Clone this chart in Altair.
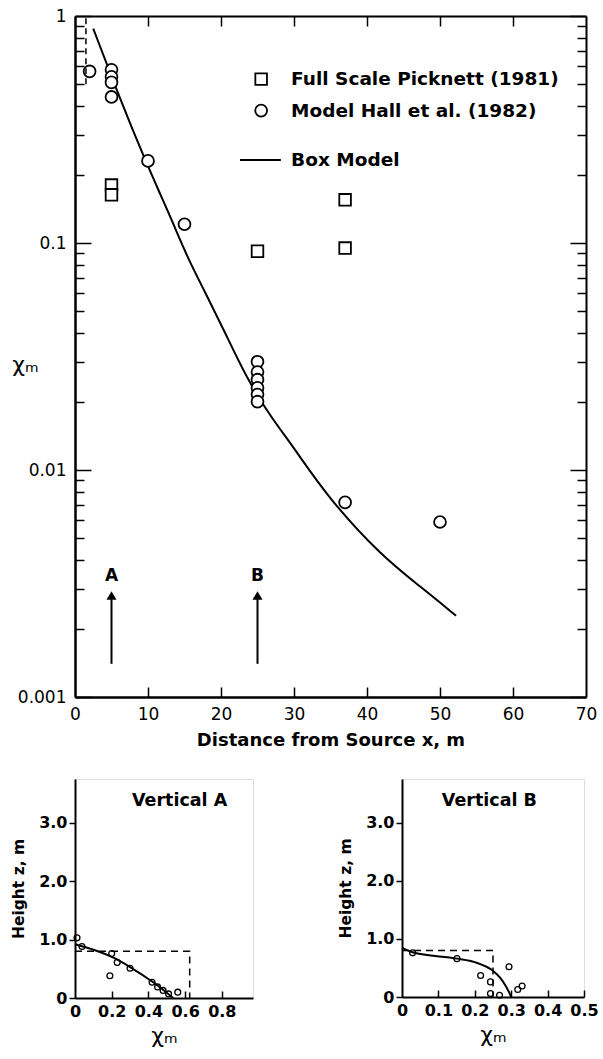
import altair as alt
import pandas as pd

FONT = "DejaVu Sans"

# ---------------- main panel data ----------------
pick_x = [5, 5, 25, 37, 37]
pick_y = [0.18, 0.163, 0.092, 0.155, 0.095]

hall_x = [2, 5, 5, 5, 5, 10, 15, 25, 25, 25, 25, 25, 25, 37, 50]
hall_y = [0.57, 0.58, 0.54, 0.51, 0.44, 0.23, 0.121,
          0.030, 0.027, 0.025, 0.023, 0.0215, 0.020, 0.0072, 0.0059]

box_x = [2.5, 6.3, 9.55, 11.8, 13.4, 15.5, 17.8, 20.5, 23.7, 26.9, 30.1, 34.6, 41.9, 47.4, 52.2]
box_y = [0.88, 0.42, 0.234, 0.161, 0.123, 0.0851, 0.0609, 0.0407, 0.0247, 0.0170,
         0.0124, 0.0076, 0.0042, 0.00305, 0.00228]

legend_labels = ["Full Scale Picknett (1981)", "Model Hall et al. (1982)", "Box Model"]
legend_y = [0.527, 0.383, 0.232]
legend_sym_x = 25.5
legend_line_x = [22.6, 28.2]
legend_text_x = 29.6

arrow_x = [5, 25]
arrow_labels = ["A", "B"]
arrow_lo, arrow_hi, arrow_head, arrow_lab = 0.0014, 0.0027, 0.0028, 0.0034

init_x = 1.5
init_y = [0.5, 1.0]

x_major = [0, 10, 20, 30, 40, 50, 60, 70]
x_inner = [10, 20, 30, 40, 50, 60]
y_major = [0.001, 0.01, 0.1, 1]
y_all = [k * 10.0 ** e for e in (-3, -2, -1) for k in range(1, 10)] + [1.0]

# ---------------- vertical profiles ----------------
a_x = [0.011, 0.038, 0.20, 0.19, 0.23, 0.30, 0.42, 0.45, 0.48, 0.51, 0.56]
a_z = [1.03, 0.88, 0.76, 0.38, 0.61, 0.51, 0.27, 0.19, 0.13, 0.07, 0.10]
a_line_x = [0, 0.21, 0.30, 0.43, 0.535]
a_line_z = [0.92, 0.69, 0.53, 0.26, 0.0]
a_box_x = [0, 0.625, 0.625]
a_box_z = [0.8, 0.8, 0.0]

b_x = [0.029, 0.151, 0.216, 0.243, 0.243, 0.268, 0.294, 0.318, 0.33]
b_z = [0.76, 0.66, 0.37, 0.26, 0.06, 0.03, 0.52, 0.13, 0.19]
b_line_x = [0, 0.029, 0.151, 0.2, 0.25, 0.27, 0.285, 0.295, 0.3]
b_line_z = [0.85, 0.77, 0.66, 0.6, 0.45, 0.33, 0.19, 0.07, 0.0]
b_box_x = [0, 0.25, 0.25]
b_box_z = [0.8, 0.8, 0.0]

W, H = 511, 681

xs = alt.Scale(domain=[0, 70], nice=False, zero=False)
ys = alt.Scale(type="log", domain=[0.001, 1], nice=False)

major_test = "abs(log(datum.value)/LN10 - round(log(datum.value)/LN10)) < 0.000001"
ytick = {"condition": {"test": major_test, "value": 16}, "value": 9}

common = dict(grid=False, domainColor="black", domainWidth=2, tickColor="black",
              tickWidth=1.5, labelColor="black", titleColor="black",
              labelFont=FONT, titleFont=FONT)

x_lab_axis = alt.Axis(orient="bottom", values=x_major, ticks=False, tickSize=0,
                      labelFontSize=17, labelPadding=9, labelFlush=False,
                      title="Distance from Source x, m", titleFontSize=18,
                      titleFontWeight="bold", titlePadding=9, **common)
y_lab_axis = alt.Axis(orient="left", values=y_major, format="~g", ticks=False, tickSize=0,
                      labelFontSize=17, labelPadding=9, labelOverlap=False,
                      title="χₘ", titleAngle=0, titleX=-50, titleY=348,
                      titleAlign="center", titleBaseline="middle",
                      titleFontSize=22, titleFontWeight="normal", **common)
x_bot_ticks = alt.Axis(orient="top", offset=-H, values=x_inner, labels=False,
                       tickSize=10, title="", **common)
x_top_ticks = alt.Axis(orient="bottom", offset=-H, values=x_inner, labels=False,
                       tickSize=10, title="", **common)
y_left_ticks = alt.Axis(orient="right", offset=-W, values=y_all, labels=False,
                        tickSize=ytick, title="", **common)
y_right_ticks = alt.Axis(orient="left", offset=-W, values=y_all, labels=False,
                         tickSize=ytick, title="", **common)

df_box = pd.DataFrame({"x": box_x, "y": box_y})
df_hall = pd.DataFrame({"x": hall_x, "y": hall_y})
df_pick = pd.DataFrame({"x": pick_x, "y": pick_y})

line_main = alt.Chart(df_box).mark_line(color="black", strokeWidth=2, interpolate="basis").encode(
    x=alt.X("x:Q", scale=xs, axis=x_lab_axis),
    y=alt.Y("y:Q", scale=ys, axis=y_lab_axis),
)
circ_main = alt.Chart(df_hall).mark_point(shape="circle", size=140, color="black", opacity=1,
                                          fill="white", filled=False, strokeWidth=1.8).encode(
    x=alt.X("x:Q", scale=xs, axis=x_bot_ticks),
    y=alt.Y("y:Q", scale=ys, axis=y_left_ticks),
)
sq_main = alt.Chart(df_pick).mark_point(shape="square", size=135, color="black", opacity=1,
                                        fill="white", filled=False, strokeWidth=1.8).encode(
    x=alt.X("x:Q", scale=xs, axis=x_top_ticks),
    y=alt.Y("y:Q", scale=ys, axis=y_right_ticks),
)

df_leg = pd.DataFrame({"x": [legend_text_x] * 3, "y": legend_y, "t": legend_labels})
leg_text = alt.Chart(df_leg).mark_text(align="left", baseline="middle", fontSize=18.5,
                                       fontWeight="bold", font=FONT, color="black").encode(
    x=alt.X("x:Q", scale=xs, axis=None), y=alt.Y("y:Q", scale=ys, axis=None), text="t:N")
leg_sq = alt.Chart(pd.DataFrame({"x": [legend_sym_x], "y": [legend_y[0]]})).mark_point(
    shape="square", size=135, color="black", opacity=1, filled=False, strokeWidth=1.8).encode(
    x=alt.X("x:Q", scale=xs, axis=None), y=alt.Y("y:Q", scale=ys, axis=None))
leg_ci = alt.Chart(pd.DataFrame({"x": [legend_sym_x], "y": [legend_y[1]]})).mark_point(
    shape="circle", size=140, color="black", opacity=1, filled=False, strokeWidth=1.8).encode(
    x=alt.X("x:Q", scale=xs, axis=None), y=alt.Y("y:Q", scale=ys, axis=None))
leg_ln = alt.Chart(pd.DataFrame({"x": [legend_line_x[0]], "x2": [legend_line_x[1]],
                                 "y": [legend_y[2]]})).mark_rule(color="black", strokeWidth=2).encode(
    x=alt.X("x:Q", scale=xs, axis=None), x2="x2:Q", y=alt.Y("y:Q", scale=ys, axis=None))

df_arr = pd.DataFrame({"x": arrow_x, "lo": [arrow_lo] * 2, "hi": [arrow_hi] * 2,
                       "head": [arrow_head] * 2, "lab": [arrow_lab] * 2, "t": arrow_labels})
arr_rule = alt.Chart(df_arr).mark_rule(color="black", strokeWidth=2).encode(
    x=alt.X("x:Q", scale=xs, axis=None), y=alt.Y("lo:Q", scale=ys, axis=None), y2="hi:Q")
arr_head = alt.Chart(df_arr).mark_point(shape="triangle-up", size=100, filled=True,
                                        color="black", opacity=1).encode(
    x=alt.X("x:Q", scale=xs, axis=None), y=alt.Y("head:Q", scale=ys, axis=None))
arr_text = alt.Chart(df_arr).mark_text(fontSize=17, fontWeight="bold", font=FONT,
                                       color="black", baseline="middle").encode(
    x=alt.X("x:Q", scale=xs, axis=None), y=alt.Y("lab:Q", scale=ys, axis=None), text="t:N")

init_rule = alt.Chart(pd.DataFrame({"x": [init_x], "y": [init_y[0]], "y2": [init_y[1]]})).mark_rule(
    color="black", strokeWidth=1.5, strokeDash=[6, 4]).encode(
    x=alt.X("x:Q", scale=xs, axis=None), y=alt.Y("y:Q", scale=ys, axis=None), y2="y2:Q")

main = alt.layer(line_main, circ_main, sq_main, leg_text, leg_sq, leg_ci, leg_ln,
                 arr_rule, arr_head, arr_text, init_rule).resolve_scale(
    x="independent", y="independent").properties(width=W, height=H)


def profile(px, pz, lx, lz, bx, bz, xmax, xvals, title, tx, pw, ph):
    sx = alt.Scale(domain=[0, xmax], nice=False, zero=False)
    sz = alt.Scale(domain=[0, 3.75], nice=False, zero=False)
    xl = alt.Axis(orient="bottom", values=[0] + xvals, ticks=False, tickSize=0,
                  labelExpr="datum.value == 0 ? '0' : format(datum.value, '.1f')",
                  labelFontSize=16, labelFontWeight="bold", labelPadding=5, labelFlush=False,
                  labelOverlap=False, title="χₘ", titleFontSize=22, titleFontWeight="normal",
                  titlePadding=6, **common)
    yl = alt.Axis(orient="left", values=[0, 1, 2, 3], tickSize=6,
                  labelExpr="datum.value == 0 ? '0' : format(datum.value, '.1f')",
                  labelFontSize=16, labelFontWeight="bold", labelPadding=2,
                  title="Height z, m", titleFontSize=15.5, titleFontWeight="bold",
                  titlePadding=12, **common)
    xt = alt.Axis(orient="top", offset=-ph, values=xvals, labels=False, tickSize=7,
                  domain=False, title="", **common)
    d_line = pd.DataFrame({"x": lx, "z": lz})
    d_pts = pd.DataFrame({"x": px, "z": pz})
    d_box = pd.DataFrame({"x": bx, "z": bz, "o": list(range(len(bx)))})
    ln = alt.Chart(d_line).mark_line(color="black", strokeWidth=2, interpolate="monotone").encode(
        x=alt.X("x:Q", scale=sx, axis=xl), y=alt.Y("z:Q", scale=sz, axis=yl))
    pts = alt.Chart(d_pts).mark_point(shape="circle", size=34, color="black", opacity=1,
                                      filled=False, strokeWidth=1.3).encode(
        x=alt.X("x:Q", scale=sx, axis=xt), y=alt.Y("z:Q", scale=sz, axis=None))
    bx_l = alt.Chart(d_box).mark_line(color="black", strokeWidth=1.5, strokeDash=[7, 5]).encode(
        x=alt.X("x:Q", scale=sx, axis=None), y=alt.Y("z:Q", scale=sz, axis=None), order="o:O")
    tt = alt.Chart(pd.DataFrame({"x": [tx], "z": [3.38], "t": [title]})).mark_text(
        fontSize=17.5, fontWeight="bold", font=FONT, color="black").encode(
        x=alt.X("x:Q", scale=sx, axis=None), y=alt.Y("z:Q", scale=sz, axis=None), text="t:N")
    return alt.layer(ln, pts, bx_l, tt).resolve_scale(
        x="independent", y="independent").properties(width=pw, height=ph)


pa = profile(a_x, a_z, a_line_x, a_line_z, a_box_x, a_box_z, 0.97,
             [0.2, 0.4, 0.6, 0.8], "Vertical A", 0.57, 178, 219)
pb = profile(b_x, b_z, b_line_x, b_line_z, b_box_x, b_box_z, 0.5,
             [0.1, 0.2, 0.3, 0.4, 0.5], "Vertical B", 0.24, 182, 218)

bottom = alt.hconcat(pa, pb, spacing=84)
chart = alt.vconcat(main, bottom, spacing=28).properties(
    padding={"left": 11, "top": 6, "right": 0, "bottom": 4}
).configure_view(strokeWidth=0).configure(background="white")

chart.save("out.html", embed_options={"renderer": "svg", "actions": False})
